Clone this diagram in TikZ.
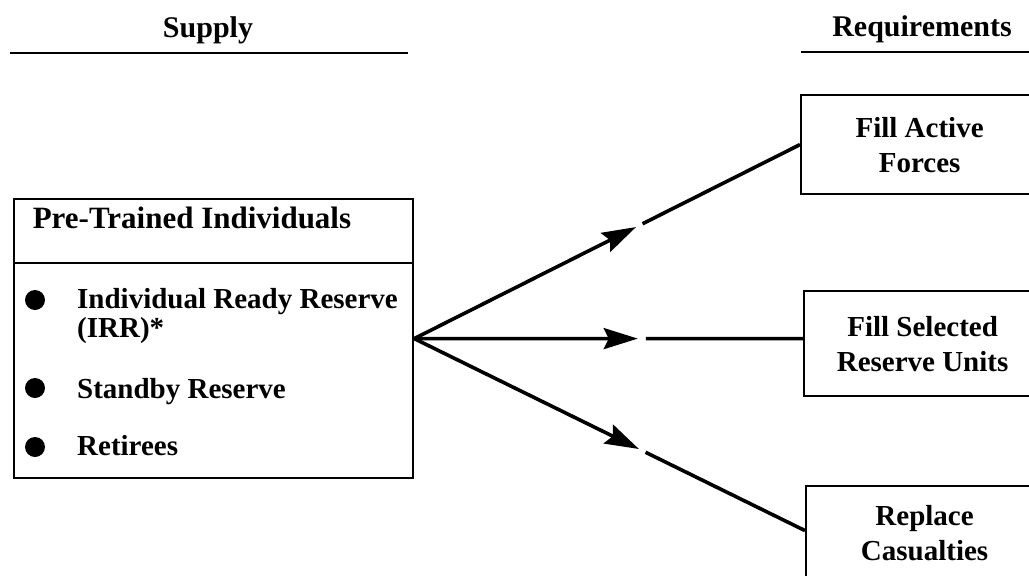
\documentclass[tikz,border=0pt]{standalone}
\usepackage{fontspec}
\setmainfont{Liberation Serif}
\usetikzlibrary{arrows.meta,calc}
\begin{document}
\begin{tikzpicture}[x=1pt,y=-1pt,
  txt/.style={font=\fontsize{29}{35}\selectfont\bfseries, inner sep=0pt},
  ttl/.style={font=\fontsize{31}{35}\selectfont\bfseries, inner sep=0pt},
  head/.style={font=\fontsize{30}{35}\selectfont\bfseries, inner sep=0pt},
  rbox/.style={draw, line width=2.2pt, minimum width=237pt, anchor=north west,
    align=center, font=\fontsize{29}{35}\selectfont\bfseries, inner sep=0pt},
  bul/.style={circle, fill, inner sep=0pt, minimum size=20pt},
  arr/.style={line width=3.6pt, -{Stealth[length=34pt,width=21pt,inset=5pt]}},
  conn/.style={line width=3.6pt},
  rule/.style={line width=2.2pt}]
\useasboundingbox (0,0) rectangle (1029,576);
\clip (0,0) rectangle (1029,576);
\fill[white] (0,0) rectangle (1029,576);
% headings
\node[head, anchor=base] (sup) at (208,37) {Supply};
\coordinate (s1) at (10,53);
\coordinate (s2) at (408,53);
\draw[rule] (s1) -- (s2);
\node[head, anchor=base] (req) at (922,36) {Requirements};
\coordinate (q1) at (801,52);
\coordinate (q2) at (1035,52);
\draw[rule] (q1) -- (q2);
% left box
\node[draw, line width=2.2pt, minimum width=399pt, minimum height=279pt, anchor=north west, inner sep=0pt] (L) at (13,198) {};
\coordinate (d1) at (13,263);
\coordinate (d2) at (412,263);
\draw[line width=2.2pt] (d1) -- (d2);
\node[ttl, anchor=base] (title) at (192,228) {Pre-Trained Individuals};
\node[bul] (b1) at (35,300) {};
\node[txt, anchor=base west] (i1) at (77,308) {Individual Ready Reserve};
\node[txt, anchor=base west] (i1b) at (77,337) {(IRR)*};
\node[bul] (b2) at (35,388) {};
\node[txt, anchor=base west] (i2) at (77,398) {Standby Reserve};
\node[bul] (b3) at (35,447) {};
\node[txt, anchor=base west] (i3) at (77,455) {Retirees};
% right boxes
\node[rbox, minimum height=99pt] (r1) at (800,94) {Fill Active\\Forces};
\node[rbox, minimum height=105pt] (r2) at (803,290) {Fill Selected\\Reserve Units};
\node[rbox, minimum height=95pt] (r3) at (805,485) {Replace\\Casualties};
% connectors
\coordinate (e1) at (r1.west);
\coordinate (e2) at (r2.west |- L.east);
\coordinate (e3) at ($(r3.west)+(0,-3)$);
\draw[arr] (L.east) -- ($(L.east)!0.575!(e1)$);
\draw[conn] ($(L.east)!0.592!(e1)$) -- (e1);
\draw[arr] (L.east) -- ($(L.east)!0.575!(e2)$);
\draw[conn] ($(L.east)!0.596!(e2)$) -- (e2);
\draw[arr] (L.east) -- ($(L.east)!0.575!(e3)$);
\draw[conn] ($(L.east)!0.592!(e3)$) -- (e3);
\end{tikzpicture}
\end{document}
